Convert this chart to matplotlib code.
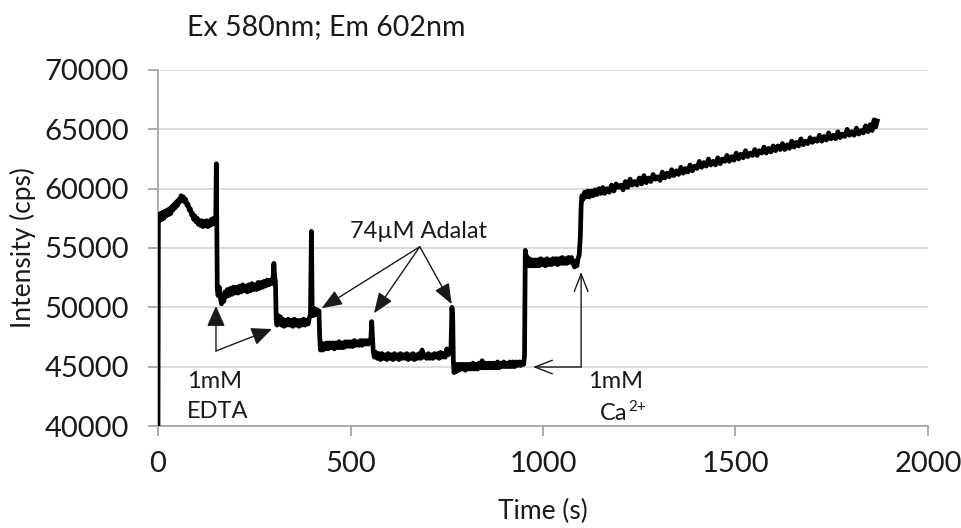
import matplotlib
matplotlib.use("Agg")
import matplotlib.pyplot as plt

# ---------------- data ----------------
trace = [
    (0, 40000), (1, 57800), (3, 57300), (6, 57900), (9, 57400), (12, 58000), (15, 57500), (18, 58100),
    (21, 57700), (24, 58200), (27, 57800), (30, 58300), (33, 57900), (36, 58500), (39, 58200), (42, 58700),
    (45, 58400), (48, 58900), (51, 58600), (54, 59100), (57, 58900), (60, 59400), (63, 59000), (66, 59300),
    (69, 58900), (72, 59100), (75, 58600), (78, 58700), (81, 58200), (84, 58300), (87, 57800), (90, 57900),
    (93, 57400), (96, 57700), (99, 57200), (102, 57500), (105, 57000), (108, 57300), (111, 56900), (114, 57300),
    (117, 56800), (120, 57200), (123, 56900), (126, 57300), (129, 56800), (132, 57200), (135, 56900), (138, 57400),
    (141, 57000), (144, 57500), (147, 57100), (150, 57400),
    (151.5, 62100), (153, 55000), (154, 51500), (156, 51000), (159, 51700), (162, 50800), (165, 50300), (168, 50900),
    (171, 50500), (174, 51300), (177, 50900), (180, 51500), (184, 51000), (188, 51600), (192, 51100), (196, 51700),
    (200, 51200), (204, 51700), (208, 51200), (212, 51800), (216, 51300), (220, 51900), (224, 51400), (228, 51800),
    (232, 51300), (236, 51900), (240, 51400), (244, 52000), (248, 51500), (252, 51900), (256, 51500), (260, 52100),
    (264, 51600), (268, 52100), (272, 51700), (276, 52200), (280, 51800), (284, 52300), (288, 51900), (292, 52300),
    (296, 52000), (299, 52500), (301, 53700), (303, 52600), (305, 52200), (307, 49000),
    (309, 48500), (312, 49300), (315, 48600), (318, 49200), (321, 48500), (324, 49000), (327, 48400), (330, 48900),
    (334, 48500), (338, 49000), (342, 48500), (346, 48900), (350, 48400), (354, 49000), (358, 48500), (362, 48900),
    (366, 48400), (370, 48900), (374, 48500), (378, 49000), (382, 48500), (386, 48900), (390, 48600), (393, 49100),
    (396, 49400), (398.5, 56400), (400.5, 49800), (403, 49300), (406, 49900), (409, 49400), (412, 49800), (415, 49400),
    (418, 49700), (420, 47500),
    (422, 46400), (425, 47000), (428, 46400), (431, 46900), (434, 46500), (438, 47000), (442, 46500), (446, 47000),
    (450, 46600), (454, 47000), (458, 46500), (462, 47000), (466, 46600), (470, 47100), (474, 46600), (478, 47000),
    (482, 46600), (486, 47100), (490, 46700), (494, 47100), (498, 46700), (502, 47100), (506, 46700), (510, 47200),
    (514, 46800), (518, 47100), (522, 46800), (526, 47200), (530, 46800), (534, 47200), (538, 46900), (542, 47200),
    (546, 46900), (550, 47200), (553, 47400), (555, 48800), (557, 47600), (559, 46300),
    (562, 45800), (566, 46200), (570, 45700), (574, 46100), (578, 45600), (582, 46100), (586, 45700), (590, 46000),
    (594, 45600), (598, 46100), (602, 45700), (606, 46000), (610, 45600), (614, 46100), (618, 45700), (622, 46000),
    (626, 45600), (630, 46100), (634, 45700), (638, 46000), (642, 45700), (646, 46100), (650, 45600), (654, 46000),
    (658, 45700), (662, 46100), (666, 45600), (670, 46000), (674, 45700), (678, 46100), (682, 45700), (686, 46400),
    (690, 45800), (694, 46000), (698, 45700), (702, 46100), (706, 45700), (710, 46000), (714, 45700), (718, 46100),
    (722, 45800), (726, 46100), (730, 45700), (734, 46200), (738, 45800), (742, 46100), (746, 45800), (750, 46500),
    (754, 46000), (758, 46300), (761, 46600), (763.5, 50000), (765.5, 49200), (767, 45600),
    (769, 44500), (772, 45100), (775, 44600), (778, 45200), (782, 44700), (786, 45200), (790, 44800), (794, 45200),
    (798, 44700), (802, 45200), (806, 44800), (810, 45200), (814, 44800), (818, 45300), (822, 44800), (826, 45200),
    (830, 44800), (834, 45300), (838, 44900), (842, 45500), (846, 44900), (850, 45300), (854, 44900), (858, 45300),
    (862, 44900), (866, 45300), (870, 44900), (874, 45300), (878, 44900), (882, 45400), (886, 44900), (890, 45300),
    (894, 45000), (898, 45400), (902, 45000), (906, 45300), (910, 45000), (914, 45400), (918, 45000), (922, 45400),
    (926, 45000), (930, 45400), (934, 45100), (938, 45400), (942, 45100), (946, 45400), (950, 45200), (952, 46000),
    (954, 54800), (956, 53700), (958, 54300), (961, 53500), (964, 54100), (967, 53500), (970, 54000), (974, 53500),
    (978, 54000), (982, 53500), (986, 54000), (990, 53500), (994, 54100), (998, 53600), (1002, 54000), (1006, 53500),
    (1010, 54100), (1014, 53600), (1018, 54000), (1022, 53600), (1026, 54100), (1030, 53700), (1034, 54100), (1038, 53600),
    (1042, 54100), (1046, 53700), (1050, 54200), (1054, 53700), (1058, 54100), (1062, 53700), (1066, 54200), (1070, 53800),
    (1074, 54200), (1078, 53700), (1082, 53400), (1085, 53900), (1088, 53500), (1091, 54100), (1094, 54400), (1097, 56000),
    (1099, 58500), (1101, 59400),
    (1104, 59100), (1108, 59700), (1112, 59300), (1116, 59800), (1120, 59300), (1125, 59800), (1130, 59400), (1135, 59900),
    (1140, 59500), (1145, 60000), (1150, 59600), (1155, 60100), (1160, 59600), (1166, 60000), (1172, 59700), (1178, 60300),
    (1184, 59800), (1190, 60400), (1196, 60100), (1202, 60300), (1208, 59900), (1214, 60600), (1220, 60100), (1226, 60800),
    (1232, 60300), (1238, 60600), (1244, 60300), (1250, 60900), (1256, 60400), (1262, 61100), (1268, 60500), (1274, 60900),
    (1280, 60600), (1286, 61200), (1292, 60800), (1298, 61000), (1304, 60700), (1310, 61400), (1316, 60900), (1322, 61300),
    (1328, 61000), (1334, 61600), (1340, 61100), (1346, 61500), (1352, 61200), (1358, 61800), (1364, 61300), (1370, 61700),
    (1376, 61400), (1382, 62000), (1388, 61500), (1394, 61900), (1400, 61700), (1406, 62300), (1412, 61800), (1418, 62200),
    (1424, 61900), (1430, 62500), (1436, 62000), (1442, 62300), (1448, 62000), (1454, 62600), (1460, 62100), (1466, 62500),
    (1472, 62300), (1478, 62800), (1484, 62300), (1490, 62700), (1496, 62400), (1502, 63000), (1508, 62500), (1514, 62900),
    (1520, 62600), (1526, 63200), (1532, 62700), (1538, 63000), (1544, 62800), (1550, 63300), (1556, 62800), (1562, 63200),
    (1568, 63000), (1574, 63500), (1580, 63000), (1586, 63400), (1592, 63100), (1598, 63600), (1604, 63200), (1610, 63600),
    (1616, 63300), (1622, 63800), (1628, 63300), (1634, 63700), (1640, 63400), (1646, 64000), (1652, 63500), (1658, 63900),
    (1664, 63600), (1670, 64200), (1676, 63700), (1682, 64000), (1688, 63800), (1694, 64300), (1700, 63900), (1706, 64200),
    (1712, 64000), (1718, 64500), (1724, 64000), (1730, 64400), (1736, 64100), (1742, 64700), (1748, 64200), (1754, 64500),
    (1760, 64200), (1766, 64800), (1772, 64300), (1778, 64600), (1784, 64400), (1790, 65000), (1796, 64500), (1802, 64800),
    (1808, 64500), (1814, 65100), (1820, 64600), (1826, 64900), (1832, 64700), (1838, 65300), (1844, 64800), (1850, 65400),
    (1855, 64900), (1860, 65800), (1864, 65200), (1868, 65700),
]
time_s = [p[0] for p in trace]
intensity_cps = [p[1] for p in trace]

x_ticks = [0, 500, 1000, 1500, 2000]
y_ticks = [40000, 45000, 50000, 55000, 60000, 65000, 70000]
title_text = "Ex 580nm; Em 602nm"
x_label = "Time (s)"
y_label = "Intensity (cps)"

# annotation anchors (data coordinates)
adalat_origin = (680, 55110)
adalat_targets = [(425, 49920), (561, 49500), (763, 50260)]
edta_corner = (150.6, 46320)
edta_targets = [(150.6, 50110), (296, 48170)]
ca_corner = (1099, 44970)
ca_targets = [(1099, 52980), (974, 44970)]

# ---------------- figure ----------------
plt.rcParams["font.family"] = ["Lato", "DejaVu Sans"]

W, H = 962, 528
fig = plt.figure(figsize=(W / 100, H / 100), dpi=100)
ax = fig.add_axes([158 / W, 1 - 426 / H, 770 / W, 356 / H])

ax.plot(time_s, intensity_cps, color="black", lw=3.4, solid_joinstyle="round", zorder=3)

ax.set_xlim(0, 2000)
ax.set_ylim(40000, 70000)
ax.set_xticks(x_ticks)
ax.set_yticks(y_ticks)
ax.yaxis.grid(True, color="#d9d9d9", lw=1.3)
ax.set_axisbelow(True)
for s in ("top", "right"):
    ax.spines[s].set_visible(False)
for s in ("left", "bottom"):
    ax.spines[s].set_color("#a6a6a6")
    ax.spines[s].set_linewidth(1.3)
ax.tick_params(axis="both", direction="out", length=7, width=1.3, color="#a6a6a6",
               labelsize=21, labelcolor="#1a1a1a")
ax.tick_params(axis="y", pad=14)
ax.tick_params(axis="x", pad=11)

ax.set_xlabel(x_label, fontsize=19, color="#1a1a1a")
ax.set_ylabel(y_label, fontsize=19, color="#1a1a1a")
ax.xaxis.set_label_coords(0.5, -0.205)
ax.yaxis.set_label_coords(-0.158, 0.5)

fig.text(187 / W, 1 - 35 / H, title_text, fontsize=20.5, color="#1a1a1a", ha="left", va="baseline")

acol = "#1a1a1a"
for tgt in adalat_targets:
    ax.annotate("", xy=tgt, xytext=adalat_origin,
                arrowprops=dict(arrowstyle="-|>,head_length=0.9,head_width=0.35", color=acol, lw=1.0,
                                shrinkA=0, shrinkB=0, mutation_scale=14), zorder=4)
for tgt in edta_targets:
    ax.annotate("", xy=tgt, xytext=edta_corner,
                arrowprops=dict(arrowstyle="-|>,head_length=0.9,head_width=0.4", color=acol, lw=1.0,
                                shrinkA=0, shrinkB=0, mutation_scale=14), zorder=4)
for tgt in ca_targets:
    ax.annotate("", xy=tgt, xytext=ca_corner,
                arrowprops=dict(arrowstyle="->,head_length=0.9,head_width=0.35", color=acol, lw=1.0,
                                shrinkA=0, shrinkB=0, mutation_scale=14), zorder=4)

fs_ann = 17
ax.text(499, 55840, "74µM Adalat", fontsize=fs_ann, color="#1a1a1a", ha="left", va="baseline")
ax.text(75, 43200, "1mM", fontsize=fs_ann, color="#1a1a1a", ha="left", va="baseline")
ax.text(75, 40670, "EDTA", fontsize=fs_ann, color="#1a1a1a", ha="left", va="baseline")
ax.text(1117, 43200, "1mM", fontsize=fs_ann, color="#1a1a1a", ha="left", va="baseline")
ca_txt = ax.text(1148, 40500, "Ca", fontsize=fs_ann, color="#1a1a1a", ha="left", va="baseline")
fig.canvas.draw()
bb = ca_txt.get_window_extent()
x_end, _ = ax.transData.inverted().transform((bb.x1, bb.y0))
ax.text(x_end + 2, 40500, "2+", fontsize=11, color="#1a1a1a", ha="left", va="baseline",
        transform=ax.transData).set_y(40500 + 800)

fig.savefig("out.png", dpi=100)
